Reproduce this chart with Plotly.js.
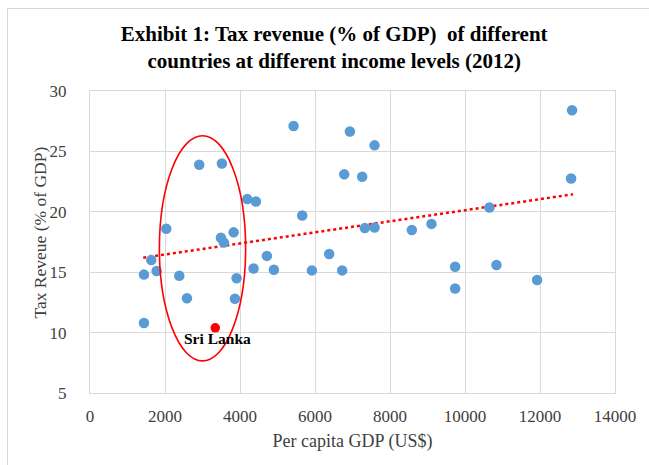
<!DOCTYPE html>
<html>
<head>
<meta charset="utf-8">
<script src="https://cdn.plot.ly/plotly-3.0.1.min.js"></script>
<style>
  html, body { margin: 0; padding: 0; background: #fff; overflow: hidden; }
  #wrap { position: relative; width: 649px; height: 465px; overflow: hidden; }
  #chart { position: absolute; left: 0; top: 0; width: 649px; height: 465px; }
  #frame { position: absolute; left: 7px; top: 8px; width: 700px; height: 520px;
           border: 1px solid #d9d9d9; pointer-events: none; }
</style>
</head>
<body>
<div id="wrap">
  <div id="chart"></div>
  <div id="frame"></div>
</div>
<script>
// Blue series: per capita GDP (US$) and tax revenue (% of GDP)
const gdp = [2913, 3518, 4193, 4424, 2034, 3830, 3491, 3571, 1634, 4717,
             1439, 1777, 2381, 4362, 4904, 3909, 2585, 3865, 1439,
             5429, 6930, 7588, 6779, 7258, 5659, 7329, 7588, 8582, 9106,
             6378, 5917, 6725, 9737, 9737,
             12855, 12829, 10652, 10839, 11922];
const taxRev = [23.9, 24.0, 21.05, 20.85, 18.6, 18.3, 17.85, 17.45, 16.0, 16.35,
                14.8, 15.1, 14.7, 15.3, 15.2, 14.5, 12.85, 12.8, 10.8,
                27.1, 26.65, 25.5, 23.1, 22.9, 19.7, 18.65, 18.7, 18.5, 19.0,
                16.5, 15.15, 15.15, 15.45, 13.65,
                28.4, 22.75, 20.35, 15.6, 14.35];
// Sri Lanka
const sriLankaGdp = [3340];
const sriLankaTax = [10.4];
const sriLankaLabel = "Sri Lanka";
// Linear trendline endpoints (as drawn)
const trendX = [1420, 12880];
const trendY = [16.2, 21.45];
// Highlight ellipse bounds (data units)
const ellipseX = [1850, 4150];
const ellipseY = [7.66, 26.3];
// Axis ticks and titles
const xTicks = [0, 2000, 4000, 6000, 8000, 10000, 12000, 14000];
const yTicks = [5, 10, 15, 20, 25, 30];
const xTitle = 'Per capita GDP (US$)';
const yTitle = 'Tax Reveue (% of GDP)';

const serif = "Liberation Serif, DejaVu Serif, serif";

const traces = [
  {
    x: trendX, y: trendY, type: 'scatter', mode: 'lines',
    line: { color: '#FF0000', width: 2.5, dash: 'dot' },
    hoverinfo: 'skip', showlegend: false
  },
  {
    x: gdp, y: taxRev, type: 'scatter', mode: 'markers',
    marker: { color: '#5B9BD5', size: 10.5 },
    showlegend: false
  },
  {
    x: sriLankaGdp, y: sriLankaTax, type: 'scatter', mode: 'markers',
    marker: { color: '#FF0000', size: 9.5 },
    showlegend: false
  }
];

const layout = {
  width: 649, height: 465,
  margin: { l: 90, r: 34, t: 91, b: 72 },
  paper_bgcolor: 'rgba(0,0,0,0)',
  plot_bgcolor: '#ffffff',
  title: {
    text: '<b>Exhibit 1: Tax revenue (% of GDP)  of different<br>countries at different income levels (2012)</b>',
    font: { family: serif, size: 21, color: '#000000' },
    x: 0.515, xanchor: 'center', y: 0.912, yanchor: 'top'
  },
  xaxis: {
    range: [0, 14000], tickvals: xTicks, ticktext: xTicks.map(String),
    showgrid: true, gridcolor: '#d9d9d9', gridwidth: 1,
    zeroline: false, showline: true, linecolor: '#d9d9d9', linewidth: 1, mirror: true,
    ticks: '', ticklen: 0, ticklabelstandoff: 8,
    tickfont: { family: serif, size: 17, color: '#404040' },
    title: { text: xTitle, font: { family: serif, size: 18, color: '#404040' }, standoff: 8 },
    fixedrange: true
  },
  yaxis: {
    range: [5, 30], tickvals: yTicks, ticktext: yTicks.map(String),
    showgrid: true, gridcolor: '#d9d9d9', gridwidth: 1,
    zeroline: false, showline: true, linecolor: '#d9d9d9', linewidth: 1, mirror: true,
    ticks: '', ticklen: 0, ticklabelstandoff: 19,
    tickfont: { family: serif, size: 17, color: '#404040' },
    fixedrange: true
  },
  shapes: [
    {
      type: 'circle', xref: 'x', yref: 'y',
      x0: ellipseX[0], x1: ellipseX[1], y0: ellipseY[0], y1: ellipseY[1],
      line: { color: '#FF0000', width: 1.6 }, fillcolor: 'rgba(0,0,0,0)'
    }
  ],
  annotations: [
    {
      x: sriLankaGdp[0], y: sriLankaTax[0], xref: 'x', yref: 'y',
      text: '<b>' + sriLankaLabel + '</b>', showarrow: false,
      xshift: 2, yshift: -11,
      font: { family: serif, size: 15.5, color: '#000000' }
    },
    {
      x: -0.096, y: 0.53, xref: 'paper', yref: 'paper',
      xanchor: 'center', yanchor: 'middle', textangle: -90,
      text: yTitle, showarrow: false,
      font: { family: serif, size: 17.5, color: '#404040' }
    }
  ]
};

Plotly.newPlot('chart', traces, layout, { staticPlot: true, displayModeBar: false });
</script>
</body>
</html>
